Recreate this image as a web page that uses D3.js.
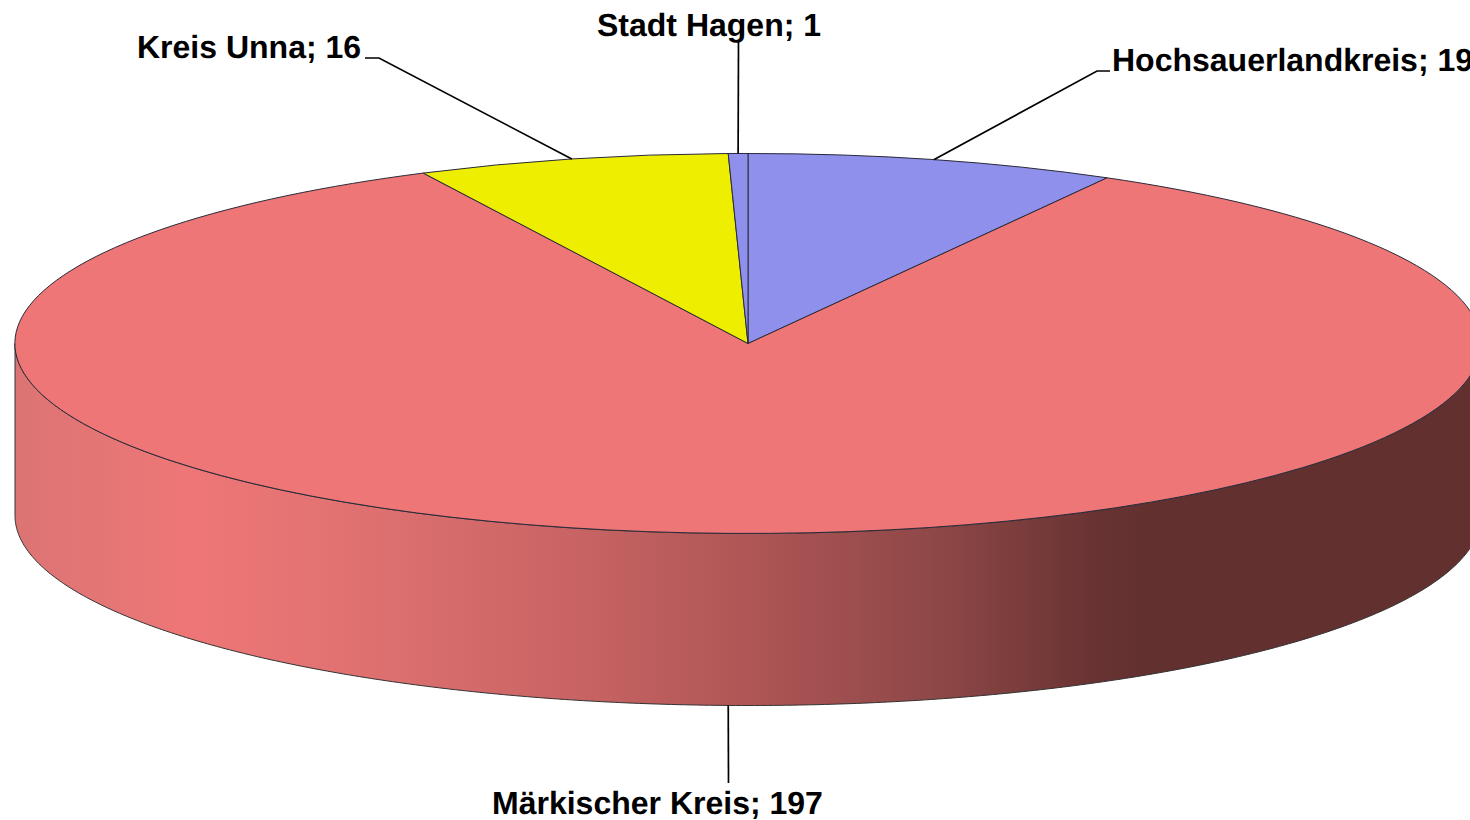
<!DOCTYPE html>
<html><head><meta charset="utf-8">
<script src="https://cdn.jsdelivr.net/npm/d3@7"></script>
<style>html,body{margin:0;padding:0;background:#fff;overflow:hidden}svg{display:block}
text{font-family:"Liberation Sans",Arial,sans-serif;font-weight:bold;font-size:32px;fill:#000;text-rendering:geometricPrecision}</style>
</head><body><svg id="c" width="1470" height="820"></svg>
<script>
const categories = ["Hochsauerlandkreis","Märkischer Kreis","Kreis Unna","Stadt Hagen"];
const values = [19,197,16,1];
const colors = ["#8F8FEC","#EE7676","#EEEE00","#8F8FEC"];
const labelAnchors = [[1112,71],[492,814],[137,58],[597,36]];
const elbows = [[[1097,71],[1110,71]],[[728.5,783]],[[379,58],[365,58]],[[738.5,42]]];
const gradientStops = [[0,"#DC7474"],[0.08,"#E87676"],[0.12,"#EE7676"],[0.22,"#E27272"],[0.38,"#C96464"],[0.49,"#B25757"],[0.63,"#8E4747"],[0.74,"#683232"],[0.77,"#633030"],[1,"#633030"]];

const cx=748, cy=343.5, rx=733, ry=190, depth=172;
const svg=d3.select("#c");
const pie=d3.pie().sort(null).value(d=>d)(values);
const arc=d3.arc().innerRadius(0).outerRadius(1);
const sx=d3.scaleLinear().domain([-1,1]).range([cx-rx,cx+rx]);
const sy=d3.scaleLinear().domain([-1,1]).range([cy-ry,cy+ry]);
const px=a=>sx(Math.sin(a)), py=a=>sy(-Math.cos(a));

const grad=svg.append("defs").append("linearGradient").attr("id","g")
 .attr("gradientUnits","userSpaceOnUse").attr("x1",cx-rx).attr("x2",cx+rx).attr("y1",0).attr("y2",0);
grad.selectAll("stop").data(gradientStops).join("stop")
 .attr("offset",d=>d[0]).attr("stop-color",d=>d[1]);

// side wall (front half of the ellipse)
const steps=d3.range(0,361).map(i=>Math.PI/2+Math.PI*i/360);
const front=steps.map(a=>[px(a),py(a)]);
const back=front.slice().reverse().map(p=>[p[0],p[1]+depth]);
svg.append("path").attr("d",d3.line()(front.concat(back))+"Z")
 .attr("fill","url(#g)").attr("stroke","#333").attr("stroke-width",1);

// top slices
const topFace=svg.append("g").attr("transform",`translate(${cx},${cy}) scale(${rx},${ry})`);
topFace.selectAll("path").data(pie).join("path")
 .attr("d",arc).attr("fill",(d,i)=>colors[i])
 .attr("stroke","#2a2a3a").attr("stroke-width",1).attr("vector-effect","non-scaling-stroke");

// leaders
pie.forEach((d,i)=>{
  const m=(d.startAngle+d.endAngle)/2;
  const onFront=Math.cos(m)<0;
  const start=[px(m),py(m)+(onFront?depth:0)];
  svg.append("path").attr("d",d3.line()([start,...elbows[i]]))
   .attr("fill","none").attr("stroke","#000").attr("stroke-width",1.7);
});

// labels
svg.selectAll("text").data(categories).join("text")
 .attr("x",(d,i)=>labelAnchors[i][0]).attr("y",(d,i)=>labelAnchors[i][1])
 .text((d,i)=>`${d}; ${values[i]}`);
</script></body></html>
